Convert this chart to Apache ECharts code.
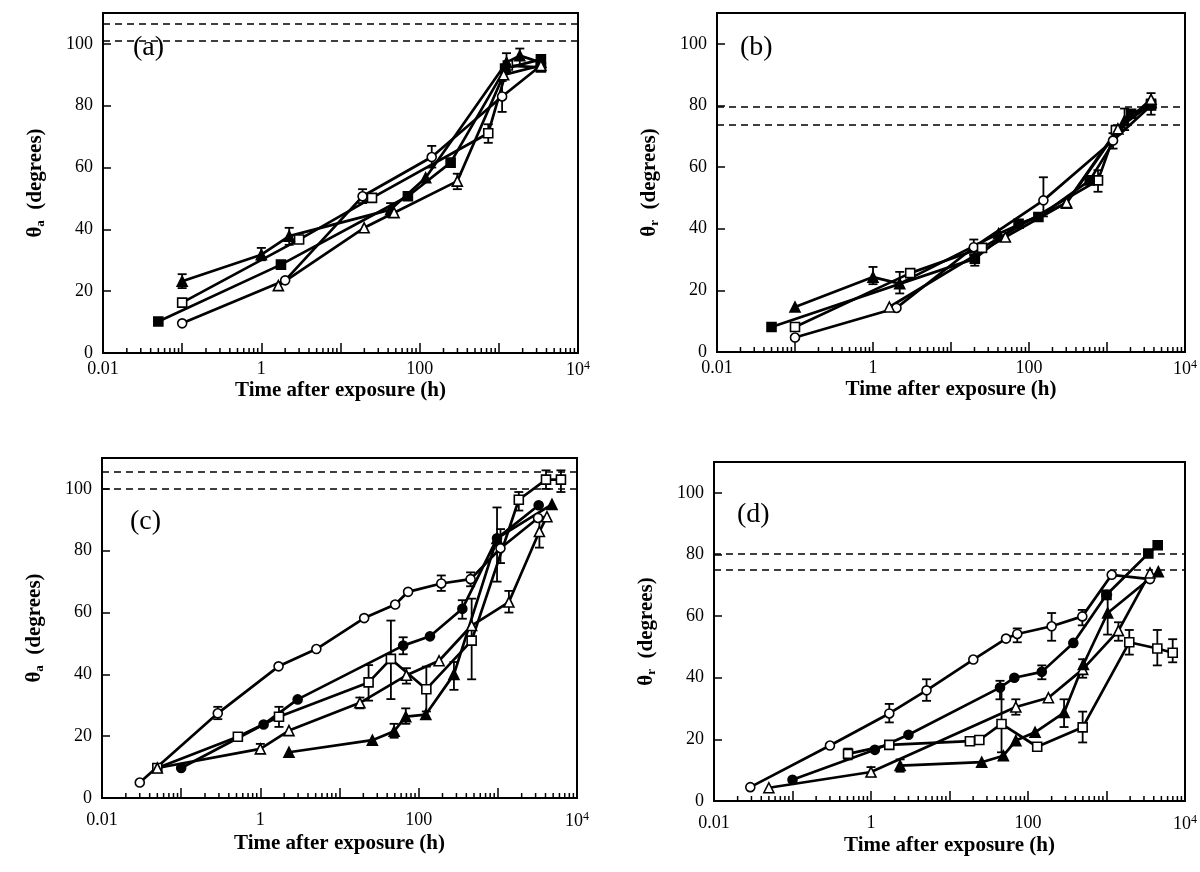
<!DOCTYPE html>
<html>
<head>
<meta charset="utf-8">
<script src="https://cdn.jsdelivr.net/npm/echarts@6/dist/echarts.min.js"></script>
<style>
  html, body { margin: 0; background: #fff; }
  #main { width: 1200px; height: 872px; }
</style>
</head>
<body>
<div id="main"></div>
<script>
// ---- panel (a): advancing angle ----
var aOpenCircle = [[0.1, 9.6], [2.0, 23.5], [19, 50.7], [142, 63.4], [1100, 83], [3400, 93]];
var aOpenSquare = [[0.1, 16.3], [3.0, 36.7], [25, 50.2], [735, 71.1], [1300, 93], [3400, 92.4]];
var aFilledTri = [[0.1, 23.2], [1, 31.8], [2.25, 37.8], [43, 46.4], [119, 56.7], [1250, 94], [1840, 96.2], [3400, 94]];
var aFilledSquare = [[0.05, 10.2], [1.77, 28.6], [71, 50.7], [246, 61.6], [1200, 92], [3400, 95]];
var aOpenTri = [[1.64, 21.8], [19.9, 40.5], [47.5, 45.4], [299, 55.6], [1150, 90], [3400, 93]];
var aErr = [[0.1, 21, 25.5], [1, 30, 34], [2.25, 35, 40.5], [19, 48.5, 53], [43, 44, 48.5], [142, 60, 67],
            [299, 53, 58], [735, 68, 74], [1100, 78, 88], [1840, 93, 98.5], [1250, 91, 97]];
var aDash = [106.5, 101];

// ---- panel (b): receding angle ----
var bOpenCircle = [[0.1, 4.7], [2.0, 14.3], [19.6, 34], [153, 49.2], [1195, 68.6], [3670, 80]];
var bOpenSquare = [[0.1, 8.1], [3.0, 25.6], [25, 33.8], [767, 55.7], [1300, 72], [3670, 80.5]];
var bFilledTri = [[0.1, 14.6], [1, 24.3], [2.2, 22.2], [40.8, 38.4], [303, 48.3], [1680, 75.1], [3670, 81]];
var bFilledSquare = [[0.05, 8.1], [20.2, 30.3], [73.5, 41.6], [132, 43.8], [600, 55.7], [2040, 77.3], [3670, 80]];
var bOpenTri = [[1.62, 14.6], [49.8, 37.3], [303, 48.5], [1380, 72.4], [3670, 82]];
var bErr = [[1, 22, 27.6], [2.2, 19, 26], [19.6, 31.5, 36.5], [20.2, 28, 32.5], [153, 44, 56.7], [767, 52, 59],
            [1195, 66, 71], [1680, 72, 79], [3670, 77, 84]];
var bDash = [79.5, 73.7];

// ---- panel (c): advancing angle ----
var cOpenCircle = [[0.03, 5], [0.29, 27.4], [1.7, 42.6], [5.1, 48.2], [20.5, 58.2], [50.5, 62.6], [73.5, 66.7],
                   [193, 69.4], [453, 70.8], [1080, 80.8], [3220, 90.6]];
var cOpenSquare = [[0.05, 9.7], [0.52, 19.8], [1.72, 26.3], [23.3, 37.4], [44.6, 45], [125, 35.2], [467, 50.9],
                   [1840, 96.5], [4060, 103], [6270, 103]];
var cFilledCircle = [[0.1, 9.7], [1.1, 23.8], [2.96, 31.9], [63.7, 49.3], [139, 52.3], [356, 61.2], [977, 84], [3280, 94.7]];
var cOpenTri = [[0.05, 9.7], [1.0, 15.9], [2.3, 21.8], [18.1, 30.8], [70, 39.7], [181, 44.4], [467, 55.8],
                [1380, 63.4], [3350, 86.2], [4170, 91]];
var cFilledTri = [[2.3, 14.8], [26, 18.7], [49, 21.6], [68.7, 26.3], [123, 27], [279, 40], [977, 84], [4830, 95]];
var cErr = [[0.29, 25.5, 29.5], [1.0, 14.5, 17.5], [1.72, 23, 29.5], [23.3, 31.5, 43], [44.6, 32, 57.4],
            [125, 28, 42.5], [467, 38.4, 64.5], [18.1, 29, 32.5], [70, 37, 42], [49, 19.5, 24], [68.7, 24, 29],
            [279, 35, 44], [193, 67, 72], [453, 68.5, 73], [1080, 76, 87], [1840, 93, 99], [977, 70, 94],
            [1380, 60, 67], [3350, 81, 91], [4060, 100, 106], [6270, 99, 106], [63.7, 46.5, 52], [356, 58, 64]];
var cDash = [105.6, 100];

// ---- panel (d): receding angle ----
var dOpenCircle = [[0.029, 4.5], [0.3, 18], [1.71, 28.4], [5.1, 35.9], [20.1, 45.9], [52.5, 52.7], [73, 54.2],
                   [200, 56.7], [492, 59.9], [1165, 73.4], [3580, 72]];
var dFilledCircle = [[0.1, 6.9], [1.12, 16.6], [3.0, 21.5], [44, 36.8], [67, 40], [150, 41.9], [378, 51.3],
                     [1000, 66.9]];
var dFilledSquare = [[1000, 66.9], [3410, 80.3], [4490, 83]];
var dOpenSquare = [[0.51, 15.3], [1.71, 18.2], [18.2, 19.4], [24, 19.8], [46, 25], [131, 17.6], [497, 23.9],
                   [1950, 51.5], [4440, 49.5], [6970, 48.1]];
var dOpenTri = [[0.05, 4.3], [1.0, 9.4], [70, 30.5], [182, 33.5], [497, 42.7], [1420, 55.3], [3580, 74]];
var dFilledTri = [[2.35, 11.5], [25.7, 12.6], [48.5, 14.7], [70, 19.6], [123, 22.3], [288, 28.7], [507, 44.3],
                  [1035, 61], [4570, 74.4]];
var dErr = [[0.51, 13.5, 17], [1.0, 8, 11], [2.35, 9.5, 13.5], [1.71, 25.5, 31.5], [5.1, 32.5, 39.5],
            [200, 52, 61], [46, 15.8, 38], [497, 19, 29], [1950, 47.5, 55.5], [4440, 44, 55.5], [6970, 45, 52.5],
            [288, 24, 33], [1035, 54, 67], [70, 28, 33], [497, 40, 46], [1420, 52, 58], [73, 51.5, 56],
            [492, 57, 62], [44, 33, 39], [150, 39.5, 44]];
var dDash = [80.3, 75];

// axis ticks / labels
var yTicks = [0, 20, 40, 60, 80, 100];
var xTickLabels = { '-2': '0.01', '0': '1', '2': '100', '4': '10{sup|4}' };
var minorTickValues = [0.02, 0.03, 0.04, 0.05, 0.06, 0.07, 0.08, 0.09,
                       0.2, 0.3, 0.4, 0.5, 0.6, 0.7, 0.8, 0.9,
                       2, 3, 4, 5, 6, 7, 8, 9,
                       20, 30, 40, 50, 60, 70, 80, 90,
                       200, 300, 400, 500, 600, 700, 800, 900,
                       2000, 3000, 4000, 5000, 6000, 7000, 8000, 9000];

var FONT = 'Liberation Serif';

var markers = {
  openCircle: { symbol: 'circle', fill: '#fff', size: 9 },
  filledCircle: { symbol: 'circle', fill: '#000', size: 9 },
  openSquare: { symbol: 'rect', fill: '#fff', size: 9 },
  filledSquare: { symbol: 'rect', fill: '#000', size: 9 },
  openTri: { symbol: 'triangle', fill: '#fff', size: 10 },
  filledTri: { symbol: 'triangle', fill: '#000', size: 10 }
};

// top row has tighter axis labels than bottom row
var panels = [
  { label: '(a)', sub: 'a', grid: { left: 103, top: 13, width: 475, height: 340 }, labelPos: [128, 29],
    lblMargin: 7, nameGap: 20,
    lines: [[aOpenCircle, 'openCircle'], [aOpenSquare, 'openSquare'], [aFilledTri, 'filledTri'],
            [aFilledSquare, 'filledSquare'], [aOpenTri, 'openTri']], err: aErr, dash: aDash },
  { label: '(b)', sub: 'r', grid: { left: 717, top: 13, width: 470, height: 339 }, labelPos: [735, 29],
    lblMargin: 7, nameGap: 20,
    lines: [[bOpenCircle, 'openCircle'], [bOpenSquare, 'openSquare'], [bFilledTri, 'filledTri'],
            [bFilledSquare, 'filledSquare'], [bOpenTri, 'openTri']], err: bErr, dash: bDash },
  { label: '(c)', sub: 'a', grid: { left: 102, top: 458, width: 475, height: 340 }, labelPos: [125, 503],
    lblMargin: 13, nameGap: 35,
    lines: [[cOpenCircle, 'openCircle'], [cOpenSquare, 'openSquare'], [cFilledCircle, 'filledCircle'],
            [cOpenTri, 'openTri'], [cFilledTri, 'filledTri']], err: cErr, dash: cDash },
  { label: '(d)', sub: 'r', grid: { left: 714, top: 462, width: 473, height: 339 }, labelPos: [732, 496],
    lblMargin: 13, nameGap: 34,
    lines: [[dOpenCircle, 'openCircle'], [dFilledCircle, 'filledCircle'], [dFilledSquare, 'filledSquare'],
            [dOpenSquare, 'openSquare'], [dOpenTri, 'openTri'], [dFilledTri, 'filledTri']], err: dErr, dash: dDash }
];

var grids = [], xAxes = [], yAxes = [], series = [], titles = [];

panels.forEach(function (p, i) {
  grids.push(Object.assign({ show: true, borderColor: '#000', borderWidth: 2 }, p.grid));

  xAxes.push({
    type: 'log', logBase: 10, gridIndex: i, min: 0.01, max: 10000,
    axisLine: { lineStyle: { color: '#000', width: 2 } },
    axisTick: { inside: true, length: 10, lineStyle: { color: '#000', width: 1.5 } },
    splitLine: { show: false },
    axisLabel: {
      color: '#000', fontFamily: FONT, fontSize: 18, margin: p.lblMargin,
      formatter: function (v) {
        var e = Math.round(Math.log(v) / Math.LN10);
        return xTickLabels[String(e)] || '';
      },
      rich: { sup: { fontFamily: FONT, fontSize: 12, verticalAlign: 'top', padding: [0, 0, 8, 0] } }
    },
    name: 'Time after exposure (h)', nameLocation: 'middle', nameGap: p.nameGap,
    nameTextStyle: { color: '#000', fontFamily: FONT, fontWeight: 'bold', fontSize: 21 }
  });

  yAxes.push({
    type: 'value', gridIndex: i, min: 0, max: 110, interval: 20,
    axisLine: { lineStyle: { color: '#000', width: 2 } },
    axisTick: { inside: true, length: 8, lineStyle: { color: '#000', width: 1.5 } },
    splitLine: { show: false },
    axisLabel: { color: '#000', fontFamily: FONT, fontSize: 18, margin: 10, showMaxLabel: false,
      formatter: function (v) { return yTicks.indexOf(v) >= 0 ? String(v) : ''; } },
    name: '{t|θ}{s|' + p.sub + '}{t|  (degrees)}', nameLocation: 'middle', nameGap: 56,
    nameTextStyle: {
      color: '#000',
      rich: {
        t: { fontFamily: FONT, fontWeight: 'bold', fontSize: 21 },
        s: { fontFamily: FONT, fontWeight: 'bold', fontSize: 13, verticalAlign: 'bottom', padding: [10, 0, 0, 0] }
      }
    }
  });

  titles.push({ text: p.label, left: p.labelPos[0], top: p.labelPos[1],
    textStyle: { fontFamily: FONT, fontWeight: 'normal', fontSize: 28, color: '#000' } });

  // dashed reference lines
  series.push({
    type: 'line', xAxisIndex: i, yAxisIndex: i, data: [], silent: true,
    markLine: {
      silent: true, symbol: 'none', label: { show: false }, animation: false,
      lineStyle: { color: '#000', width: 1.6, type: [7, 5] },
      data: p.dash.map(function (v) { return { yAxis: v }; })
    }
  });

  // minor log ticks along the bottom axis
  series.push({
    type: 'custom', xAxisIndex: i, yAxisIndex: i, silent: true, z: 1,
    data: minorTickValues.map(function (v) { return [v, 0]; }),
    renderItem: function (params, api) {
      var pt = api.coord([api.value(0), 0]);
      return { type: 'line', shape: { x1: pt[0], y1: pt[1], x2: pt[0], y2: pt[1] - 5 },
        style: { stroke: '#000', lineWidth: 1.5 } };
    }
  });

  // error bars
  series.push({
    type: 'custom', xAxisIndex: i, yAxisIndex: i, silent: true, z: 2,
    data: p.err, encode: { x: 0, y: [1, 2] },
    renderItem: function (params, api) {
      var x = api.value(0);
      var lo = api.coord([x, api.value(1)]);
      var hi = api.coord([x, api.value(2)]);
      var w = 4.5, st = { stroke: '#000', lineWidth: 1.8 };
      return { type: 'group', children: [
        { type: 'line', shape: { x1: lo[0], y1: lo[1], x2: hi[0], y2: hi[1] }, style: st },
        { type: 'line', shape: { x1: lo[0] - w, y1: lo[1], x2: lo[0] + w, y2: lo[1] }, style: st },
        { type: 'line', shape: { x1: hi[0] - w, y1: hi[1], x2: hi[0] + w, y2: hi[1] }, style: st }
      ] };
    }
  });

  p.lines.forEach(function (ln) {
    var m = markers[ln[1]];
    series.push({
      type: 'line', xAxisIndex: i, yAxisIndex: i, data: ln[0], z: 3,
      symbol: m.symbol, symbolSize: m.size, showSymbol: true,
      lineStyle: { color: '#000', width: 2.7 },
      itemStyle: { color: m.fill, borderColor: '#000', borderWidth: 1.6 }
    });
  });
});

var chart = echarts.init(document.getElementById('main'), null, { renderer: 'canvas' });
chart.setOption({
  backgroundColor: '#fff',
  animation: false,
  title: titles,
  grid: grids,
  xAxis: xAxes,
  yAxis: yAxes,
  series: series
});
</script>
</body>
</html>
